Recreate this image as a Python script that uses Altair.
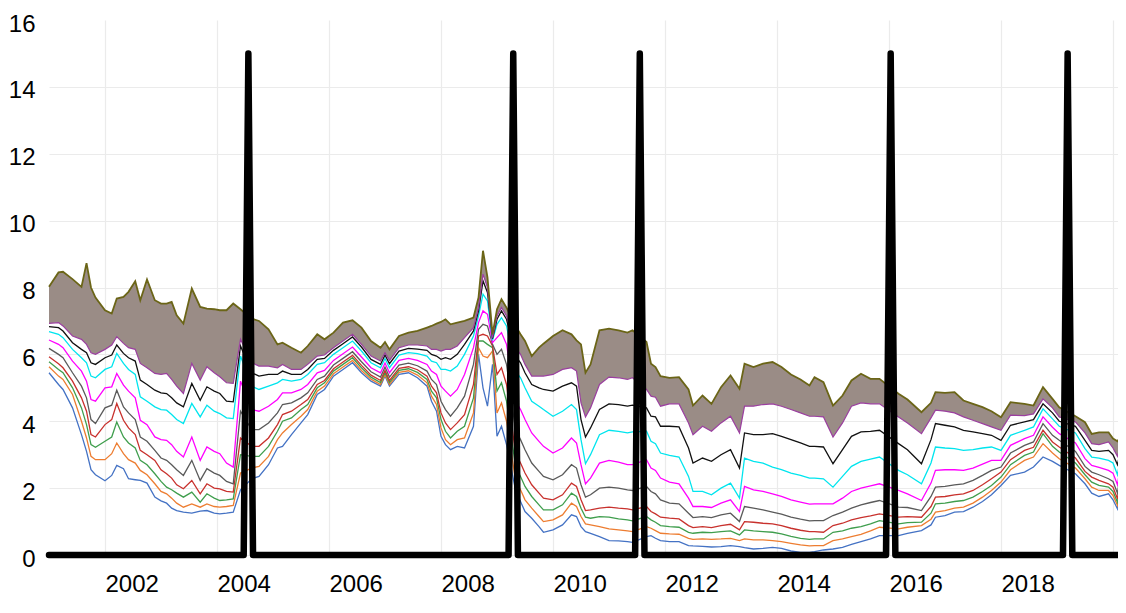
import altair as alt
import pandas as pd

# ---- data (decimal years) ----
years = [
    2001.00, 2001.17, 2001.25, 2001.42, 2001.58, 2001.67, 2001.75, 2001.83, 2002.00, 2002.12,
    2002.21, 2002.33, 2002.42, 2002.54, 2002.63, 2002.75, 2002.89, 2003.00, 2003.10, 2003.19,
    2003.28, 2003.40, 2003.55, 2003.70, 2003.82, 2003.95, 2004.05, 2004.17, 2004.29, 2004.42,
    2004.62, 2004.75, 2004.92, 2005.08, 2005.17, 2005.33, 2005.50, 2005.62, 2005.79, 2005.92,
    2006.08, 2006.25, 2006.42, 2006.58, 2006.75, 2006.92, 2007.00, 2007.08, 2007.25, 2007.42,
    2007.58, 2007.75, 2007.83, 2007.92, 2008.00, 2008.08, 2008.17, 2008.29, 2008.42, 2008.58,
    2008.67, 2008.75, 2008.83, 2008.92, 2009.00, 2009.08, 2009.17,
    2009.33, 2009.42, 2009.50, 2009.62, 2009.75, 2009.83, 2010.00, 2010.17, 2010.33, 2010.42,
    2010.50, 2010.58, 2010.67, 2010.83, 2011.00, 2011.17, 2011.33, 2011.42, 2011.67, 2011.75,
    2011.83, 2011.92, 2012.08, 2012.25, 2012.42, 2012.50, 2012.67, 2012.83, 2013.00, 2013.17,
    2013.33, 2013.42, 2013.58, 2013.75, 2013.92, 2014.08, 2014.25, 2014.42, 2014.58, 2014.67,
    2014.83, 2015.00, 2015.17, 2015.33, 2015.50, 2015.67, 2015.83, 2016.17, 2016.33, 2016.58,
    2016.75, 2016.83, 2017.00, 2017.17, 2017.33, 2017.50, 2017.67, 2017.83, 2018.00, 2018.17,
    2018.42, 2018.58, 2018.75, 2018.92, 2019.04, 2019.33, 2019.50, 2019.62, 2019.75, 2019.92,
    2020.00, 2020.08, 2020.17,
]

line_01 = [
    5.45, 5.10, 4.95, 4.40, 3.60, 3.10, 2.55, 2.40, 2.22, 2.38, 2.68, 2.58, 2.28, 2.25, 2.23, 2.15, 1.73, 1.62, 1.55, 1.40,
    1.33, 1.28, 1.25, 1.31, 1.33, 1.25, 1.23, 1.25, 1.28, 1.95,
    2.28, 2.35, 2.70, 3.20, 3.25, 3.60, 3.95, 4.20, 4.80, 4.95, 5.35, 5.55, 5.75, 5.45, 5.20, 5.05, 5.35, 5.05, 5.40, 5.45,
    5.30, 5.05, 4.60, 4.30, 3.55, 3.30, 3.15, 3.25, 3.20, 3.85, 6.00, 5.00, 4.45, 5.70, 3.55, 3.85, 3.30,
    1.95, 1.60, 1.30, 1.10, 0.85, 0.68, 0.75, 0.90, 1.20, 1.15,
    0.85, 0.70, 0.65, 0.55, 0.43, 0.42, 0.40, 0.38, 0.55, 0.58, 0.50, 0.43, 0.40, 0.40, 0.28, 0.27, 0.26, 0.24, 0.25, 0.28,
    0.25, 0.22, 0.18, 0.20, 0.23, 0.20, 0.12, 0.08, 0.08, 0.10, 0.15, 0.18, 0.23, 0.32, 0.40, 0.48, 0.58, 0.58, 0.65, 0.73,
    0.90, 1.13, 1.18, 1.28, 1.30, 1.43, 1.60, 1.80, 2.08, 2.38, 2.48, 2.63, 2.93, 2.80, 2.68, 2.43, 2.13, 1.85, 1.75, 1.83,
    1.65, 1.38, 2.50,
]
line_02 = [
    5.63, 5.35, 5.25, 4.80, 4.00, 3.50, 2.95, 2.85, 2.85, 3.03, 3.35, 3.03, 2.85, 2.75, 2.53, 2.40, 2.13, 1.90, 1.83, 1.70,
    1.55, 1.43, 1.53, 1.43, 1.53, 1.45, 1.43, 1.45, 1.48, 2.45,
    2.60, 2.65, 2.95, 3.45, 3.65, 3.90, 4.15, 4.35, 4.90, 5.05, 5.42, 5.62, 5.82, 5.52, 5.26, 5.10, 5.40, 5.10, 5.46, 5.51,
    5.38, 5.15, 4.75, 4.50, 3.80, 3.45, 3.30, 3.45, 3.50, 4.25, 6.20, 5.95, 5.90, 6.10, 4.25, 4.55, 4.00,
    2.25, 1.95, 1.65, 1.40, 1.15, 1.00, 1.05, 1.20, 1.55, 1.45,
    1.15, 0.93, 0.90, 0.85, 0.78, 0.75, 0.72, 0.70, 0.85, 0.80, 0.73, 0.65, 0.63, 0.62, 0.50, 0.47, 0.48, 0.47, 0.48, 0.50,
    0.43, 0.48, 0.45, 0.45, 0.43, 0.40, 0.35, 0.30, 0.27, 0.28, 0.28, 0.43, 0.48, 0.55, 0.62, 0.72, 0.83, 0.78, 0.83, 0.88,
    1.07, 1.28, 1.33, 1.40, 1.43, 1.55, 1.73, 1.93, 2.18, 2.55, 2.83, 2.93, 3.33, 3.05, 2.88, 2.60, 2.28, 2.03, 1.93, 1.93,
    1.78, 1.48, 2.60,
]
line_03 = [
    5.78, 5.55, 5.45, 5.00, 4.40, 3.90, 3.30, 3.22, 3.40, 3.53, 3.98, 3.53, 3.35, 3.20, 2.83, 2.70, 2.43, 2.20, 2.03, 1.95,
    1.85, 1.73, 1.88, 1.58, 1.83, 1.70, 1.63, 1.65, 1.68, 3.00,
    2.95, 2.95, 3.25, 3.70, 4.00, 4.10, 4.35, 4.50, 5.00, 5.15, 5.50, 5.70, 5.90, 5.60, 5.32, 5.16, 5.46, 5.16, 5.52, 5.57,
    5.46, 5.25, 4.90, 4.70, 4.05, 3.70, 3.50, 3.70, 3.85, 4.70, 6.40, 6.40, 6.30, 6.20, 4.90, 5.15, 4.60,
    2.65, 2.35, 2.05, 1.75, 1.50, 1.35, 1.35, 1.50, 1.85, 1.75,
    1.40, 1.13, 1.10, 1.15, 1.13, 1.08, 1.05, 1.02, 1.15, 1.05, 0.98, 0.88, 0.85, 0.83, 0.68, 0.65, 0.68, 0.67, 0.70, 0.72,
    0.60, 0.75, 0.72, 0.70, 0.68, 0.63, 0.56, 0.50, 0.47, 0.48, 0.48, 0.68, 0.72, 0.80, 0.85, 0.93, 1.03, 0.93, 0.97, 0.98,
    1.25, 1.53, 1.55, 1.60, 1.63, 1.73, 1.90, 2.08, 2.33, 2.70, 2.98, 3.08, 3.63, 3.25, 3.08, 2.75, 2.40, 2.18, 2.08, 2.03,
    1.90, 1.58, 2.70,
]
line_04 = [
    5.93, 5.72, 5.60, 5.20, 4.70, 4.30, 3.60, 3.53, 3.90, 4.05, 4.53, 4.03, 3.80, 3.60, 3.13, 3.00, 2.83, 2.55, 2.43, 2.30,
    2.10, 1.98, 2.23, 1.83, 2.13, 2.00, 1.98, 1.90, 1.88, 3.50,
    3.25, 3.25, 3.50, 3.90, 4.20, 4.30, 4.50, 4.65, 5.10, 5.22, 5.57, 5.77, 5.97, 5.67, 5.38, 5.22, 5.52, 5.22, 5.58, 5.63,
    5.54, 5.35, 5.05, 4.85, 4.25, 3.95, 3.75, 3.95, 4.20, 5.10, 6.55, 6.60, 6.55, 6.25, 5.40, 5.60, 5.10,
    3.05, 2.75, 2.45, 2.10, 1.85, 1.70, 1.65, 1.80, 2.15, 2.05,
    1.65, 1.33, 1.35, 1.40, 1.43, 1.40, 1.38, 1.35, 1.45, 1.30, 1.23, 1.13, 1.10, 1.08, 0.88, 0.82, 0.85, 0.82, 0.88, 0.92,
    0.75, 1.00, 0.98, 0.95, 0.93, 0.88, 0.80, 0.74, 0.70, 0.70, 0.68, 0.88, 0.95, 1.05, 1.12, 1.17, 1.23, 1.13, 1.15, 1.13,
    1.45, 1.73, 1.75, 1.80, 1.83, 1.93, 2.10, 2.28, 2.48, 2.85, 3.13, 3.22, 3.73, 3.38, 3.23, 2.90, 2.50, 2.33, 2.23, 2.13,
    2.03, 1.68, 2.78,
]
line_06 = [
    6.18, 6.00, 5.90, 5.45, 5.05, 4.70, 4.05, 3.93, 4.40, 4.48, 4.93, 4.43, 4.25, 4.05, 3.53, 3.40, 3.13, 2.90, 2.83, 2.70,
    2.55, 2.38, 2.83, 2.23, 2.58, 2.45, 2.38, 2.20, 2.13, 4.30,
    3.75, 3.75, 3.95, 4.25, 4.50, 4.55, 4.70, 4.85, 5.25, 5.35, 5.68, 5.88, 6.08, 5.78, 5.48, 5.32, 5.62, 5.32, 5.68, 5.74,
    5.66, 5.50, 5.25, 5.10, 4.60, 4.35, 4.15, 4.40, 4.75, 5.70, 6.75, 6.90, 6.85, 6.30, 6.00, 6.15, 5.70,
    3.75, 3.45, 3.15, 2.75, 2.50, 2.35, 2.25, 2.40, 2.70, 2.60,
    2.10, 1.73, 1.80, 2.00, 2.03, 2.00, 1.95, 1.93, 2.05, 1.90, 1.83, 1.65, 1.55, 1.53, 1.25, 1.12, 1.15, 1.12, 1.20, 1.25,
    1.00, 1.45, 1.40, 1.35, 1.28, 1.22, 1.13, 1.07, 1.02, 1.03, 1.03, 1.18, 1.28, 1.40, 1.50, 1.57, 1.63, 1.43, 1.42, 1.33,
    1.75, 2.03, 2.05, 2.10, 2.13, 2.23, 2.38, 2.53, 2.63, 3.05, 3.28, 3.38, 3.93, 3.58, 3.43, 3.10, 2.65, 2.48, 2.40, 2.28,
    2.20, 1.85, 2.90,
]
line_09 = [
    6.43, 6.30, 6.20, 5.80, 5.50, 5.20, 4.65, 4.60, 5.00, 5.03, 5.43, 5.08, 4.90, 4.70, 4.03, 3.90, 3.53, 3.45, 3.43, 3.30,
    3.10, 2.93, 3.53, 2.83, 3.23, 3.10, 3.03, 2.75, 2.63, 5.20,
    4.35, 4.30, 4.45, 4.65, 4.85, 4.85, 4.95, 5.10, 5.45, 5.52, 5.82, 6.02, 6.22, 5.92, 5.60, 5.45, 5.74, 5.45, 5.82, 5.88,
    5.82, 5.70, 5.50, 5.40, 5.05, 4.90, 4.75, 4.95, 5.40, 6.20, 6.95, 7.30, 7.20, 6.35, 6.50, 6.65, 6.30,
    4.60, 4.35, 4.05, 3.65, 3.40, 3.25, 3.05, 3.20, 3.50, 3.35,
    2.70, 2.13, 2.30, 2.75, 2.83, 2.78, 2.70, 2.70, 2.85, 2.60, 2.53, 2.30, 2.18, 2.13, 1.70, 1.45, 1.45, 1.42, 1.55, 1.65,
    1.30, 2.05, 1.95, 1.90, 1.83, 1.75, 1.65, 1.58, 1.52, 1.53, 1.53, 1.53, 1.70, 1.90, 2.00, 2.07, 2.13, 1.93, 1.83, 1.63,
    2.15, 2.53, 2.55, 2.55, 2.53, 2.60, 2.72, 2.83, 2.83, 3.28, 3.48, 3.58, 4.13, 3.82, 3.63, 3.35, 2.88, 2.68, 2.62, 2.53,
    2.45, 2.10, 3.05,
]
line_13 = [
    6.68, 6.60, 6.50, 6.15, 5.90, 5.75, 5.35, 5.30, 5.55, 5.63, 6.03, 5.73, 5.55, 5.40, 4.73, 4.60, 4.43, 4.35, 4.33, 4.20,
    4.05, 3.93, 4.53, 4.13, 4.48, 4.30, 4.23, 4.10, 4.08, 5.95,
    5.05, 4.95, 5.05, 5.15, 5.25, 5.20, 5.25, 5.40, 5.70, 5.75, 6.00, 6.20, 6.40, 6.10, 5.75, 5.60, 5.88, 5.60, 5.98, 6.05,
    6.02, 5.95, 5.80, 5.75, 5.55, 5.55, 5.50, 5.65, 6.00, 6.55, 7.15, 7.80, 7.60, 6.42, 6.90, 7.10, 6.85,
    5.50, 5.30, 5.00, 4.60, 4.45, 4.35, 4.15, 4.30, 4.50, 4.35,
    3.45, 2.73, 3.00, 3.60, 3.73, 3.70, 3.65, 3.68, 3.70, 3.40, 3.33, 3.05, 2.98, 2.93, 2.35, 1.90, 1.90, 1.80, 2.00, 2.15,
    1.70, 2.90, 2.80, 2.75, 2.63, 2.55, 2.45, 2.38, 2.30, 2.30, 2.28, 2.03, 2.35, 2.65, 2.80, 2.87, 2.93, 2.53, 2.40, 2.13,
    2.75, 3.23, 3.20, 3.18, 3.13, 3.15, 3.20, 3.23, 3.13, 3.58, 3.73, 3.83, 4.37, 4.07, 3.85, 3.65, 3.18, 2.93, 2.90, 2.83,
    2.75, 2.40, 3.25,
]
line_16 = [
    6.83, 6.80, 6.70, 6.35, 6.15, 6.05, 5.75, 5.70, 5.90, 5.98, 6.28, 6.03, 5.90, 5.80, 5.23, 5.10, 4.93, 4.85, 4.83, 4.70,
    4.55, 4.43, 5.13, 4.63, 5.03, 4.90, 4.83, 4.60, 4.58, 6.25,
    5.45, 5.35, 5.40, 5.40, 5.50, 5.40, 5.40, 5.55, 5.85, 5.88, 6.12, 6.32, 6.52, 6.22, 5.85, 5.70, 5.98, 5.72, 6.10, 6.18,
    6.16, 6.12, 6.00, 5.95, 5.85, 5.90, 5.85, 6.00, 6.30, 6.70, 7.30, 8.20, 7.85, 6.47, 7.05, 7.30, 7.05,
    5.95, 5.75, 5.45, 5.10, 5.00, 4.95, 4.90, 5.05, 5.15, 5.05,
    4.05, 3.53, 3.80, 4.35, 4.52, 4.50, 4.45, 4.48, 4.40, 4.15, 4.13, 3.85, 3.85, 3.83, 3.20, 2.75, 2.90, 2.80, 3.00, 3.15,
    2.60, 3.65, 3.60, 3.60, 3.63, 3.55, 3.45, 3.35, 3.25, 3.25, 3.23, 2.73, 3.15, 3.55, 3.68, 3.70, 3.73, 3.33, 3.15, 2.73,
    3.45, 3.93, 3.88, 3.83, 3.73, 3.68, 3.63, 3.58, 3.43, 3.88, 3.98, 4.05, 4.52, 4.25, 4.00, 3.85, 3.43, 3.13, 3.10, 3.13,
    3.00, 2.70, 3.40,
]
band_low = [
    6.93, 6.95, 6.85, 6.55, 6.45, 6.30, 6.05, 6.00, 6.15, 6.28, 6.53, 6.33, 6.20, 6.15, 5.73, 5.60, 5.43, 5.40, 5.43, 5.25,
    5.05, 4.83, 5.73, 5.23, 5.63, 5.45, 5.33, 5.15, 5.13, 6.45,
    5.75, 5.65, 5.65, 5.60, 5.70, 5.55, 5.55, 5.70, 5.95, 5.98, 6.20, 6.40, 6.60, 6.30, 5.95, 5.80, 6.05, 5.82, 6.20, 6.28,
    6.28, 6.25, 6.15, 6.15, 6.10, 6.15, 6.15, 6.25, 6.50, 6.80, 7.40, 8.40, 8.00, 6.50, 7.15, 7.40, 7.15,
    6.20, 6.00, 5.70, 5.35, 5.35, 5.35, 5.40, 5.55, 5.60, 5.50,
    4.55, 4.13, 4.40, 5.10, 5.32, 5.30, 5.25, 5.30, 4.95, 4.75, 4.72, 4.45, 4.52, 4.52, 3.95, 3.60, 3.85, 3.70, 3.95, 4.15,
    3.65, 4.45, 4.45, 4.50, 4.52, 4.45, 4.35, 4.25, 4.15, 4.15, 4.13, 3.53, 3.95, 4.45, 4.55, 4.52, 4.52, 4.13, 3.95, 3.63,
    4.10, 4.33, 4.30, 4.25, 4.13, 4.03, 3.93, 3.83, 3.73, 4.18, 4.17, 4.22, 4.67, 4.40, 4.13, 3.98, 3.65, 3.33, 3.30, 3.38,
    3.20, 2.95, 3.50,
]
line_top = [
    8.02, 8.45, 8.47, 8.25, 8.02, 8.73, 8.00, 7.70, 7.32, 7.22, 7.67, 7.72, 7.87, 8.19, 7.62, 8.24, 7.62, 7.52, 7.52, 7.57,
    7.17, 6.92, 7.97, 7.42, 7.37, 7.35, 7.32, 7.32, 7.52, 7.35,
    7.07, 7.00, 6.75, 6.30, 6.35, 6.20, 6.05, 6.25, 6.60, 6.45, 6.65, 6.95, 7.02, 6.80, 6.40, 6.20, 6.37, 6.15, 6.55, 6.65,
    6.70, 6.80, 6.85, 6.92, 6.97, 7.05, 6.90, 6.95, 7.00, 7.10, 7.70, 9.10, 8.30, 6.60, 7.35, 7.65, 7.40,
    6.85, 6.60, 6.40, 5.95, 6.20, 6.32, 6.55, 6.72, 6.60, 6.42,
    6.30, 5.45, 5.70, 6.72, 6.77, 6.72, 6.65, 6.72, 6.37, 5.72, 5.62, 5.35, 5.30, 5.32, 4.95, 4.47, 4.77, 4.52, 5.02, 5.37,
    4.97, 5.72, 5.62, 5.72, 5.77, 5.62, 5.40, 5.25, 5.07, 5.32, 5.17, 4.47, 4.77, 5.22, 5.42, 5.27, 5.27, 4.82, 4.65, 4.27,
    4.55, 4.87, 4.85, 4.87, 4.62, 4.52, 4.42, 4.30, 4.12, 4.57, 4.52, 4.47, 5.02, 4.67, 4.42, 4.15, 3.97, 3.62, 3.67, 3.67,
    3.48, 3.40, 3.64,
]

# black indicator: 0 everywhere, 15 at these dates (read from the spike positions)
spike_years = [2004.56, 2009.29, 2011.55, 2016.03, 2019.19]
spike_level = 15
series_start, series_end = 2001.00, 2020.17

series_names = ["m01", "m02", "m03", "m04", "m06", "m09", "m13", "m16", "edge", "top"]
series_vals = [line_01, line_02, line_03, line_04, line_06, line_09, line_13, line_16, band_low, line_top]
series_colors = ["#4472c4", "#ed7d31", "#3f9e4d", "#c8312d", "#5a5a5a", "#ff00ff",
                 "#00e5ee", "#111111", "#9b3fa0", "#6b6517"]
series_widths = [1.3, 1.3, 1.3, 1.3, 1.3, 1.3, 1.3, 1.3, 1.2, 1.8]

rows = []
for name, vals, w in zip(series_names, series_vals, series_widths):
    assert len(vals) == len(years), (name, len(vals), len(years))
    for yv, v in zip(years, vals):
        rows.append({"year": yv, "value": v, "series": name, "w": w})
lines_df = pd.DataFrame(rows)
band_df = pd.DataFrame({"year": years, "low": band_low, "high": line_top})

month = 1.0 / 12.0
spike_rows = [{"year": series_start, "value": 0}]
for s in spike_years:
    spike_rows += [{"year": s - month, "value": 0}, {"year": s, "value": spike_level},
                   {"year": s + month, "value": 0}]
spike_rows.append({"year": series_end, "value": 0})
spike_df = pd.DataFrame(spike_rows)

FONT = "Liberation Sans"
PLOT_W = 1069            # keeps the whole svg within the 1110px page body (no rescaling)
PX_PER_YEAR = 56.0
xscale = alt.Scale(domain=[2001.0, 2001.0 + PLOT_W / PX_PER_YEAR], nice=False, zero=False)
yscale = alt.Scale(domain=[0, 16], nice=False, zero=True)

xaxis = alt.Axis(
    values=list(range(2002, 2021, 2)), format="d",
    labelExpr="datum.value == 2020 ? '' : datum.label",
    labelAlign="left", labelBaseline="top", labelPadding=17, labelFlush=False,
    labelFontSize=24, labelFont=FONT, labelColor="#000000",
    domain=False, ticks=False, gridColor="#ebebeb", gridWidth=1.2, title=None,
)
yaxis = alt.Axis(
    values=list(range(0, 17, 2)),
    labelFontSize=24, labelFont=FONT, labelColor="#000000", labelPadding=14,
    labelOffset=4,
    domain=False, ticks=False, gridColor="#ebebeb", gridWidth=1.2, title=None,
    gridOpacity={"condition": {"test": "datum.value == 16", "value": 0}, "value": 1},
)

band = alt.Chart(band_df).mark_area(color="#9a8c86", opacity=1).encode(
    x=alt.X("year:Q", scale=xscale, axis=xaxis),
    y=alt.Y("low:Q", scale=yscale, axis=yaxis),
    y2="high:Q",
)

lines = alt.Chart(lines_df).mark_line().encode(
    x=alt.X("year:Q", scale=xscale),
    y=alt.Y("value:Q", scale=yscale),
    color=alt.Color("series:N", scale=alt.Scale(domain=series_names, range=series_colors), legend=None),
    strokeWidth=alt.StrokeWidth("w:Q", scale=None, legend=None),
)

spikes = alt.Chart(spike_df).mark_line(
    color="#000000", strokeWidth=6.5, strokeCap="round", strokeJoin="round"
).encode(
    x=alt.X("year:Q", scale=xscale),
    y=alt.Y("value:Q", scale=yscale),
)

chart = alt.layer(band, lines, spikes).properties(
    width=PLOT_W, height=535,
    autosize=alt.AutoSizeParams(type="none"),
    padding={"left": 41, "top": 12, "right": 0, "bottom": 45},
).configure_view(strokeOpacity=0)

chart.save("out.html", embed_options={"renderer": "svg", "actions": False})
